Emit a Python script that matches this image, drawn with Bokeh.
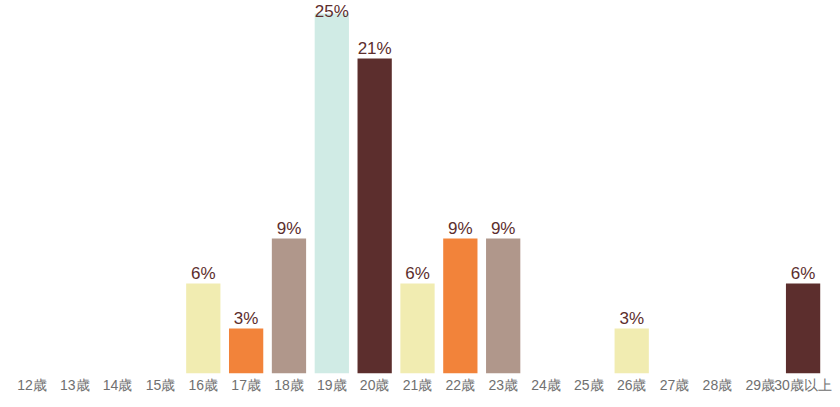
from bokeh.plotting import figure
from bokeh.models import ColumnDataSource, FactorRange
from bokeh.embed import file_html
from bokeh.resources import INLINE
from bokeh.core.properties import value

categories = ["12歳", "13歳", "14歳", "15歳", "16歳", "17歳", "18歳", "19歳", "20歳",
              "21歳", "22歳", "23歳", "24歳", "25歳", "26歳", "27歳", "28歳", "29歳", "30歳以上"]
percent = [0, 0, 0, 0, 6.25, 3.125, 9.375, 25.0, 21.875,
           6.25, 9.375, 9.375, 0, 0, 3.125, 0, 0, 0, 6.25]
palette = ["#f2833a", "#b0978b", "#d0ebe5", "#5c2e2d", "#f1ecb1"]

colors = [palette[i % 5] for i in range(len(categories))]
labels = [f"{int(v)}%" if v > 0 else "" for v in percent]

px_per_unit = 14.4
frame_h = 373
ymax = frame_h / px_per_unit
label_y = [min(v + 1 / px_per_unit, ymax - 20 / px_per_unit) for v in percent]

src = ColumnDataSource(dict(cat=categories, v=percent, c=colors, lab=labels, ly=label_y))

p = figure(x_range=FactorRange(*categories, range_padding=0), y_range=(0, ymax),
           frame_width=814, frame_height=frame_h, min_border_left=10, min_border_right=8,
           min_border_top=0, min_border_bottom=4,
           output_backend="svg", toolbar_location=None)

p.vbar(x="cat", top="v", width=0.8, color="c", source=src, line_color=None)
p.text(x="cat", y="ly", text="lab", source=src, text_align="center",
       text_baseline="bottom", text_color="#5c2e2d", text_font_size="17px",
       text_font=value("Liberation Sans"))

p.yaxis.visible = False
p.xgrid.visible = False
p.ygrid.visible = False
p.outline_line_color = None
p.xaxis.axis_line_color = None
p.xaxis.major_tick_line_color = None
p.xaxis.minor_tick_line_color = None
p.xaxis.major_label_standoff = -3
p.xaxis.major_label_text_font = "Liberation Sans"
p.xaxis.major_label_text_font_size = "14px"
p.xaxis.major_label_text_color = "#707070"
p.xaxis.group_text_font_size = "0px"

open("out.html", "w").write(file_html(p, INLINE))
